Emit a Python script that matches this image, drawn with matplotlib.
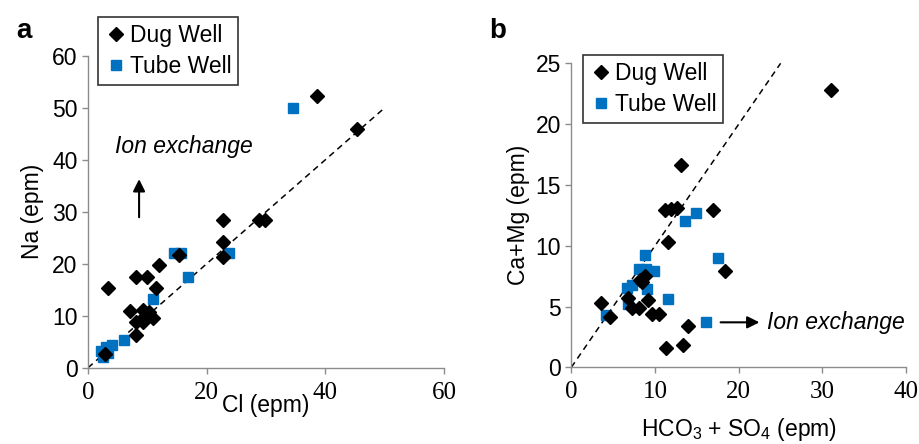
import matplotlib.pyplot as plt
import numpy as np

plt.rcParams['font.family'] = ['Liberation Sans', 'DejaVu Sans']
plt.rcParams['mathtext.default'] = 'regular'

# panel a: Cl vs Na
dug_cl = [3.3, 8.1, 10.0, 12.0, 15.3, 11.4, 7.1, 9.2, 10.3, 11.0, 8.1, 9.2, 8.1,
          38.5, 45.4, 22.8, 28.8, 29.9, 22.8, 22.8, 2.8, 9.6]
dug_na = [15.3, 17.5, 17.5, 19.7, 21.7, 15.3, 11.0, 11.1, 10.8, 9.5, 8.8, 8.8, 6.3,
          52.2, 45.9, 28.5, 28.5, 28.5, 24.2, 21.3, 2.6, 9.9]
tube_cl = [14.5, 15.6, 16.8, 11.0, 6.0, 2.2, 3.0, 4.0, 2.5, 3.4, 34.6, 23.7]
tube_na = [22.0, 22.0, 17.5, 13.2, 5.3, 3.3, 4.0, 4.3, 2.0, 2.9, 50.0, 22.0]

# panel b: HCO3+SO4 vs Ca+Mg
dug_hs = [3.6, 4.6, 6.8, 7.2, 8.1, 9.2, 8.2, 8.8, 9.6, 10.5, 11.5, 11.2, 11.9, 12.6,
          13.1, 16.9, 18.4, 13.9, 11.3, 13.3, 31.0, 8.5]
dug_cm = [5.3, 4.1, 5.7, 4.85, 4.9, 5.5, 7.2, 7.5, 4.4, 4.4, 10.3, 12.9, 13.0, 13.1,
          16.6, 12.9, 7.9, 3.4, 1.6, 1.8, 22.8, 7.0]
tube_hs = [4.2, 6.6, 7.3, 6.8, 9.0, 8.1, 8.9, 9.9, 8.8, 11.5, 13.6, 14.9, 17.5, 16.1]
tube_cm = [4.3, 6.5, 6.8, 5.2, 6.4, 8.1, 8.1, 7.9, 9.2, 5.6, 12.0, 12.7, 9.0, 3.7]

blue = '#0070C0'
gray = '#8c8c8c'
fs = 16.5

fig = plt.figure(figsize=(9.2, 4.44), dpi=100)
axa = fig.add_axes([0.0957, 0.1718, 0.387, 0.7027])
axb = fig.add_axes([0.621, 0.1727, 0.364, 0.6847])


def style(ax):
    for s in ['top', 'right']:
        ax.spines[s].set_visible(False)
    for s in ['left', 'bottom']:
        ax.spines[s].set_color(gray)
        ax.spines[s].set_linewidth(1.0)
    ax.tick_params(colors=gray, length=4, width=1, labelsize=fs, labelcolor='black')
    ax.tick_params(axis='x', pad=6)
    for lab in ax.get_xticklabels():
        lab.set_family('Liberation Serif')
        lab.set_fontsize(18)
    for lab in ax.get_yticklabels():
        lab.set_family('Liberation Sans')


def legend(ax, left, top):
    leg = ax.legend(loc='upper left', bbox_to_anchor=(left, top), fontsize=fs,
                    handletextpad=0.1, handlelength=1.0, borderpad=0.3, labelspacing=0.35,
                    fancybox=False, edgecolor='#333333', framealpha=1)
    leg.get_frame().set_linewidth(1.2)


axa.plot([0, 50], [0, 50], 'k--', lw=1.1, dashes=(4, 3), zorder=1)
axa.plot(dug_cl, dug_na, 'D', color='black', ms=7, ls='none', label='Dug Well', zorder=3)
axa.plot(tube_cl, tube_na, 's', color=blue, ms=7.5, ls='none', label='Tube Well', zorder=2)
axa.set_xlim(0, 60)
axa.set_ylim(0, 60)
axa.set_xticks([0, 20, 40, 60])
axa.set_yticks(np.arange(0, 61, 10))
axa.set_xlabel('Cl (epm)', fontsize=fs, labelpad=-7)
axa.set_ylabel('Na (epm)', fontsize=fs, labelpad=6)
style(axa)
axa.text(4.6, 42.5, 'Ion exchange', fontsize=fs, style='italic', va='center')
axa.annotate('', xy=(8.6, 36.8), xytext=(8.6, 28.4),
             arrowprops=dict(arrowstyle='-|>', color='black', lw=1.5, mutation_scale=18))
legend(axa, -0.005, 1.16)

axb.plot([0, 25], [0, 25], 'k--', lw=1.1, dashes=(4, 3), zorder=1)
axb.plot(dug_hs, dug_cm, 'D', color='black', ms=7, ls='none', label='Dug Well', zorder=3)
axb.plot(tube_hs, tube_cm, 's', color=blue, ms=7.5, ls='none', label='Tube Well', zorder=2)
axb.set_xlim(0, 40)
axb.set_ylim(0, 25)
axb.set_xticks([0, 10, 20, 30, 40])
axb.set_yticks(np.arange(0, 26, 5))
axb.set_xlabel('HCO$_3$ + SO$_4$ (epm)', fontsize=fs, labelpad=9)
axb.set_ylabel('Ca+Mg (epm)', fontsize=fs, labelpad=4)
style(axb)
axb.text(23.4, 3.7, 'Ion exchange', fontsize=fs, style='italic', va='center')
axb.annotate('', xy=(22.8, 3.7), xytext=(17.5, 3.7),
             arrowprops=dict(arrowstyle='-|>', color='black', lw=1.5, mutation_scale=18))
legend(axb, 0.0, 1.065)

fig.text(0.018, 0.93, 'a', fontsize=20, fontweight='bold', va='center')
fig.text(0.532, 0.93, 'b', fontsize=20, fontweight='bold', va='center')

fig.savefig('out.png', dpi=100)
